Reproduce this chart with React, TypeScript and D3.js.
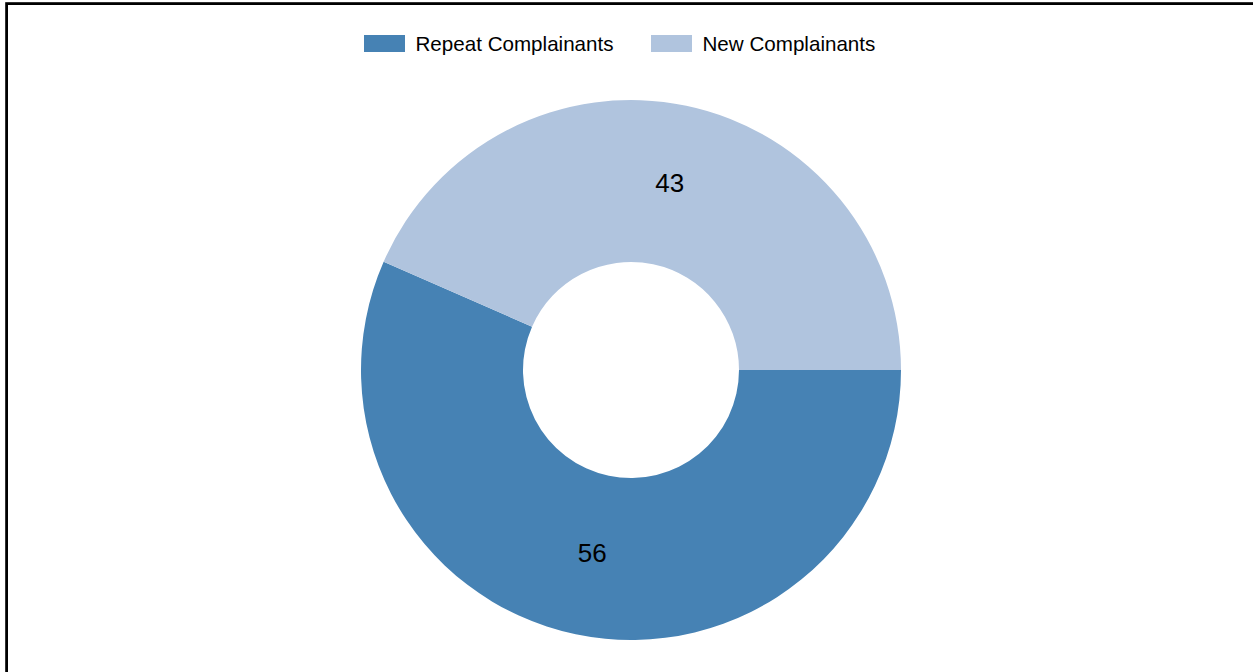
import React from "react";
import * as d3 from "d3";

const categories = ["Repeat Complainants", "New Complainants"];
const values = [56, 43];
const colors = ["#4682b4", "#b0c4de"];

const W = 1253;
const H = 672;

export default function App() {
  const cx = 631;
  const cy = 370;
  const outerR = 270;
  const innerR = 108;

  const pie = d3
    .pie<number>()
    .sort(null)
    .startAngle(Math.PI / 2)
    .endAngle(Math.PI / 2 + 2 * Math.PI)
    .value((d) => d);
  const arcs = pie(values);
  const arcGen = d3.arc<d3.PieArcDatum<number>>().innerRadius(innerR).outerRadius(outerR);

  const legendX = [364, 651];

  return (
    <svg
      width={W}
      height={H}
      style={{ position: "absolute", left: 0, top: 0, fontFamily: "Arial, 'Liberation Sans', sans-serif" }}
    >
      <rect x={0} y={0} width={W} height={H} fill="#fff" />
      <rect x={6.6} y={3.6} width={W + 20} height={H + 20} fill="none" stroke="#000" strokeWidth={2.8} />
      <g transform={`translate(${cx},${cy})`}>
        {arcs.map((a, i) => (
          <path key={i} d={arcGen(a) || ""} fill={colors[i]} />
        ))}
        {arcs.map((a, i) => {
          const [x, y] = arcGen.centroid(a);
          return (
            <text key={"l" + i} x={x} y={y} dy="0.28em" textAnchor="middle" fontSize={26} fill="#000">
              {values[i]}
            </text>
          );
        })}
      </g>
      <g>
        {categories.map((c, i) => (
          <g key={c} transform={`translate(${legendX[i]},35)`}>
            <rect x={0} y={0} width={41} height={17} fill={colors[i]} />
            <text x={51.5} y={15.5} fontSize={20.6} fill="#000">
              {c}
            </text>
          </g>
        ))}
      </g>
    </svg>
  );
}
